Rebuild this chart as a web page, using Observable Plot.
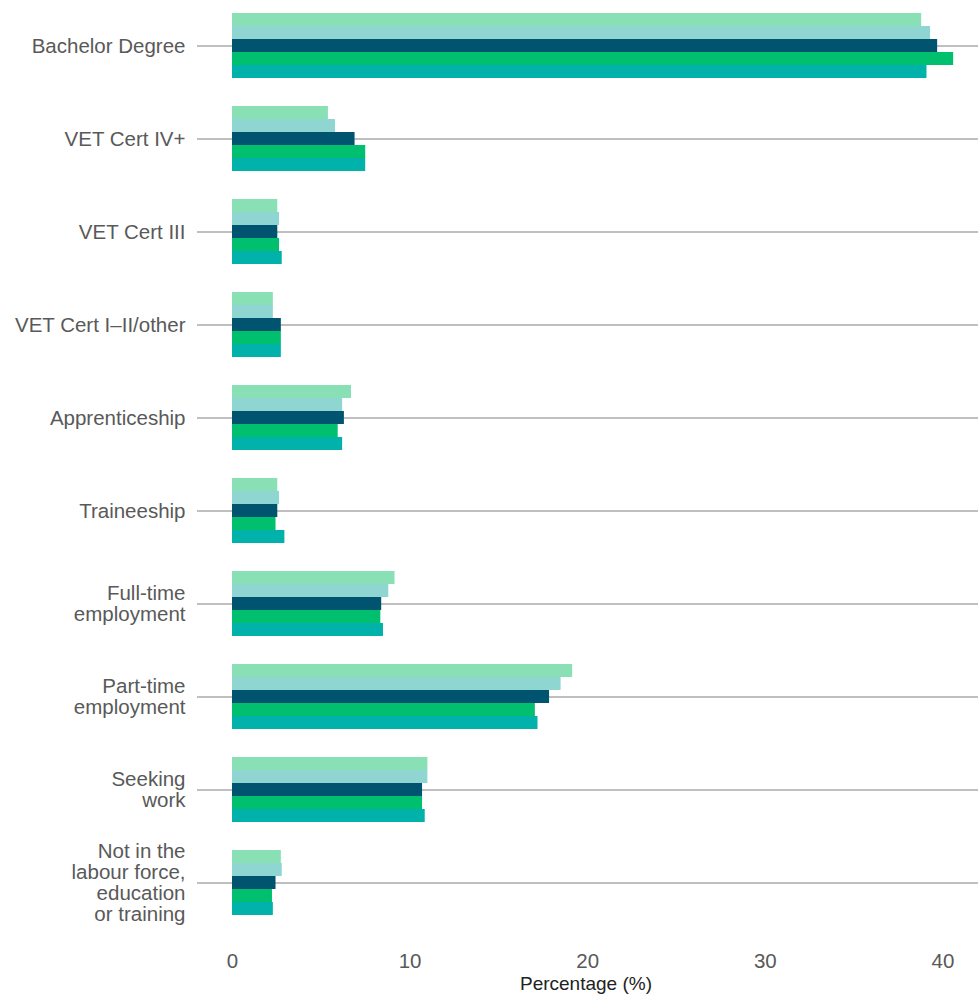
<!DOCTYPE html>
<html>
<head>
<meta charset="utf-8">
<script src="https://cdn.jsdelivr.net/npm/d3@7"></script>
<script src="https://cdn.jsdelivr.net/npm/@observablehq/plot@0.6"></script>
<style>
  body { margin: 0; background: #fff; font-family: "Liberation Sans", Arial, sans-serif; }
  #chart { position: relative; top: -3px; height: 978px; }
  #chart svg { display: block; }
  #caption { margin: -5px 0 0 232px; width: 708px; text-align: center; font-size: 19px; line-height: 22px; color: #222; }
</style>
</head>
<body>
<div id="chart"></div>
<div id="caption">Percentage (%)</div>
<script>
const categories = [
  "Bachelor Degree", "VET Cert IV+", "VET Cert III", "VET Cert I–II/other",
  "Apprenticeship", "Traineeship", "Full-time employment", "Part-time employment",
  "Seeking work", "Not in the labour force, education or training"
];
const tickLabels = [
  "Bachelor Degree", "VET Cert IV+", "VET Cert III", "VET Cert I–II/other",
  "Apprenticeship", "Traineeship", "Full-time\nemployment", "Part-time\nemployment",
  "Seeking\nwork", "Not in the\nlabour force,\neducation\nor training"
];
const seriesNames = ["Series 1", "Series 2", "Series 3", "Series 4", "Series 5"];
const seriesColors = ["#8ae0b5", "#8fd6d2", "#005470", "#00bf6f", "#00b2aa"];
const series1 = [38.8, 5.4, 2.55, 2.3, 6.7, 2.55, 9.15, 19.15, 11.0, 2.75];
const series2 = [39.3, 5.8, 2.65, 2.3, 6.2, 2.65, 8.8, 18.5, 11.0, 2.8];
const series3 = [39.7, 6.9, 2.55, 2.75, 6.3, 2.55, 8.4, 17.85, 10.7, 2.45];
const series4 = [40.6, 7.5, 2.65, 2.75, 5.95, 2.45, 8.35, 17.05, 10.7, 2.25];
const series5 = [39.1, 7.5, 2.8, 2.75, 6.2, 2.95, 8.5, 17.2, 10.85, 2.3];
const xTicks = [0, 10, 20, 30, 40];

const allSeries = [series1, series2, series3, series4, series5];
const data = [];
categories.forEach((c, i) => {
  allSeries.forEach((s, j) => data.push({category: c, series: seriesNames[j], value: s[i]}));
});
const labelOf = new Map(categories.map((c, i) => [c, tickLabels[i]]));

const chart = Plot.plot({
  width: 978,
  height: 978,
  marginLeft: 232,
  marginRight: 0,
  marginTop: 0,
  marginBottom: 45,
  style: {fontFamily: "Liberation Sans, Arial, sans-serif", background: "transparent"},
  x: {domain: [0, 42]},
  y: {domain: seriesNames, axis: null, paddingInner: 0, paddingOuter: 1.03},
  fy: {domain: categories, padding: 0, label: null},
  color: {domain: seriesNames, range: seriesColors},
  marks: [
    Plot.gridFy({stroke: "#aaa", strokeOpacity: 1, strokeWidth: 1.5}),
    Plot.barX(data, {x: "value", y: "series", fy: "category", fill: "series"}),
    Plot.axisFy({
      anchor: "left",
      tickSize: 35, tickPadding: 12, stroke: "#aaa", strokeWidth: 1.5,
      tickFormat: d => labelOf.get(d), fontSize: 20.5, lineHeight: 1.025,
      fill: "#595959", label: null
    }),
    Plot.axisX({ticks: xTicks, tickSize: 0, tickPadding: 24, fontSize: 20.5, fill: "#595959", label: null})
  ]
});
document.getElementById("chart").appendChild(chart);
</script>
</body>
</html>
